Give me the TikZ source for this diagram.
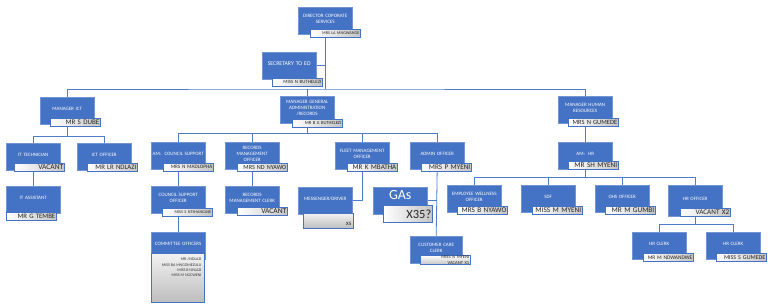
\documentclass[tikz,border=0pt]{standalone}
\usepackage{fontspec}
\setmainfont{Carlito}
\definecolor{boxBlue}{HTML}{4472C4}
\definecolor{lineBlue}{HTML}{4F7BC8}
\definecolor{nameGray}{HTML}{C4C4C4}
\definecolor{listGray}{HTML}{BDBDBD}
\usetikzlibrary{calc, positioning, backgrounds}

\tikzset{
  posbox/.style={fill=boxBlue, draw=boxBlue!75!white, line width=0.4pt, anchor=north west,
    minimum width=54pt, minimum height=27pt, inner xsep=1pt, inner ysep=0.5pt, text width=52pt,
    align=center, text=white, font=\fontsize{5}{6}\selectfont,
    execute at end node={\\[-3pt]\mbox{}}},
  namebox/.style={draw=boxBlue, line width=0.6pt, left color=white, right color=nameGray,
    anchor=north west, minimum height=8pt, inner xsep=1pt, inner ysep=0.4pt, text width=48pt,
    align=right, text=black!85, font=\fontsize{#1}{#1}\selectfont},
  namebox/.default=7,
  listbox/.style={draw=boxBlue, line width=0.6pt, top color=gray!10, bottom color=listGray,
    anchor=north west, minimum width=53pt, minimum height=49pt, inner sep=0pt},
  link/.style={draw=lineBlue, line width=0.8pt}
}

\begin{document}
\begin{tikzpicture}[x=1pt, y=-1pt]
  \useasboundingbox (0,0) rectangle (768,307);

  % top level
  \node[posbox] (dirBox) at (298,7) {DIRECTOR COPORATE\\SERVICES};
  \node[namebox=4.2] (dirName) at (310,29) {MRS LA MNGWANGE};
  \node[posbox, font=\fontsize{5.8}{6.8}\selectfont] (secBox) at (262,52) {SECRETARY TO ED};
  \node[namebox=4.9] (secName) at (272,78) {MISS N BUTHELEZI};

  % ICT
  \node[posbox] (mictBox) at (40,97) {MANAGER ICT};
  \node[namebox=7] (mictName) at (50,118) {MR S DUBE};
  \node[posbox] (ittBox) at (6,143) {IT TECHNICIAN};
  \node[namebox=7.5] (ittName) at (14,163) {VACANT};
  \node[posbox] (ictoBox) at (77,143) {ICT OFFICER};
  \node[namebox=6.8] (ictoName) at (87,163) {MR LR NDLAZI};
  \node[posbox] (itaBox) at (6,186) {IT ASSISTANT};
  \node[namebox=6.8] (itaName) at (6,212) {MR G TEMBE};

  % general administration / records
  \node[posbox] (mgaBox) at (280,96) {MANAGER GENERAL\\ADMINISTRATION\\/RECORDS};
  \node[namebox=4.6] (mgaName) at (292,119) {MR B A BUTHELEZI};
  \node[posbox] (amcsBox) at (151,142) {\mbox{AM:\ \ COUNCIL SUPPORT}};
  \node[namebox=5.2] (amcsName) at (163,163) {MRS N MADLOPHA};
  \node[posbox] (rmoBox) at (225,142) {RECORDS\\MANAGEMENT\\OFFICER};
  \node[namebox=6.2] (rmoName) at (237,163) {MRS ND NYAWO};
  \node[posbox] (csoBox) at (151,186) {COUNCIL SUPPORT\\OFFICER};
  \node[namebox=4.2] (csoName) at (162,208) {MISS S NTSHANGASE};
  \node[posbox] (rmcBox) at (225,186) {RECORDS\\MANAGEMENT CLERK};
  \node[namebox=7.5] (rmcName) at (237,207) {VACANT};
  \node[posbox] (comBox) at (151,232) {\mbox{COMMITTEE OFFICERS}};
  \node[listbox] (comList) at (151,253) {};
  \node[anchor=north east, align=right, inner sep=0pt, text=black!80,
        font=\fontsize{4}{5.4}\selectfont] (comNames) at ($(comList.north east)+(-3,5)$)
        {MR J NDLAZI\\MISS BA MNGOMEZULU\\MISS B NHLAZI\\MISS M NGCWENI};
  \node[posbox] (fmoBox) at (335,142) {FLEET MANAGEMENT\\OFFICER};
  \node[namebox=7.1] (fmoName) at (347,163) {MR K MBATHA};
  \node[posbox] (msgBox) at (298,187) {MESSENGER/DRIVER};
  \node[listbox, minimum width=50pt, minimum height=15pt, text width=46pt, align=right,
        text height=9pt, font=\fontsize{5}{5}\selectfont] (msgList) at (303,213) {X5};
  \node[posbox, font=\fontsize{14}{15}\selectfont, execute at end node={}] (gasBox) at (373,187) {GAs};
  \node[namebox=12.5, minimum height=17pt, text width=47pt] (gasName) at (383,205) {X35?};
  \node[posbox] (aoBox) at (410,142) {ADMIN OFFICER};
  \node[namebox=7.2] (aoName) at (421,163) {MRS P MYENI};
  \node[posbox, text width=50pt, minimum width=52pt] (cccBox) at (410,236) {CUSTOMER CARE\\CLERK};
  \node[namebox, top color=white, bottom color=nameGray,
        font=\fontsize{4.6}{5.6}\selectfont] (cccName) at (420,255) {MISS N MYENI\\VACANT X1};

  % human resources
  \node[posbox] (mhrBox) at (558,96) {MANAGER HUMAN\\RESOURCES};
  \node[namebox=6.5] (mhrName) at (568,118) {MRS N GUMEDE};
  \node[posbox] (amhrBox) at (558,142) {AM:\ \ HR};
  \node[namebox=7.3] (amhrName) at (568,161) {MR SH MYENI};
  \node[posbox] (ewoBox) at (447,185) {EMPLOYEE WELLNESS\\OFFICER};
  \node[namebox=7.2] (ewoName) at (457,206) {MRS B NYAWO};
  \node[posbox] (sdfBox) at (521,185) {SDF};
  \node[namebox=7.3] (sdfName) at (532,206) {MISS M MYENI};
  \node[posbox] (ohsBox) at (595,185) {OHS OFFICER};
  \node[namebox=7.3] (ohsName) at (605,206) {MR M GUMBI};
  \node[posbox, minimum height=31pt] (hroBox) at (668,185) {HR OFFICER};
  \node[namebox=7.2] (hroName) at (680,208) {VACANT X2};
  \node[posbox] (hrc1Box) at (632,232) {HR CLERK};
  \node[namebox=5.4] (hrc1Name) at (643,253) {MR M NDWANDWE};
  \node[posbox] (hrc2Box) at (706,232) {HR CLERK};
  \node[namebox=6] (hrc2Name) at (716,253) {MISS S GUMEDE};

  % connectors
  \begin{scope}[on background layer]
    \fill[white] (0,0) rectangle (768,307);
    \coordinate (topBus) at ($(mgaBox.north)+(0,-7)$);
    \draw[link] (dirBox.south) -- (dirBox.south |- topBus);
    \draw[link] (secBox.east) -- (secBox.east -| dirBox.south);
    \draw[link] (mictBox.north) |- (topBus) -| (mhrBox.north);
    \draw[link] (mgaBox.north) -- (topBus);

    \coordinate (ictBus) at ($(mictBox.south)+(0,12)$);
    \draw[link] (mictBox.south) -- (ictBus);
    \draw[link] (ittBox.north) |- (ictBus) -| (ictoBox.north);
    \draw[link] (ittBox.south) -- (itaBox.north);

    \coordinate (admBus) at ($(mgaBox.south)+(0,10)$);
    \draw[link] (mgaBox.south) -- (admBus);
    \draw[link] (amcsBox.north) |- (admBus) -| (aoBox.north);
    \draw[link] (rmoBox.north) -- (rmoBox.north |- admBus);
    \draw[link] (fmoBox.north) -- (fmoBox.north |- admBus);
    \draw[link] (amcsBox.south) -- (csoBox.north);
    \draw[link] (csoBox.south) -- (comBox.north);
    \draw[link] (rmoBox.south) -- (rmcBox.north);
    \draw[link] (fmoBox.south) |- (msgBox.east);
    \draw[link] (aoBox.south) -- (cccBox.north);
    \draw[link] (gasBox.east) -- (gasBox.east -| aoBox.south);

    \draw[link] (mhrBox.south) -- (amhrBox.north);
    \coordinate (hrBus) at ($(amhrBox.south)+(0,8)$);
    \draw[link] (amhrBox.south) -- (hrBus);
    \draw[link] (ewoBox.north) |- (hrBus) -| (hroBox.north);
    \draw[link] (sdfBox.north) -- (sdfBox.north |- hrBus);
    \draw[link] (ohsBox.north) -- (ohsBox.north |- hrBus);
    \coordinate (clerkBus) at ($(hroBox.south)+(0,8)$);
    \draw[link] (hroBox.south) -- (clerkBus);
    \draw[link] (hrc1Box.north) |- (clerkBus) -| (hrc2Box.north);
  \end{scope}
\end{tikzpicture}
\end{document}
